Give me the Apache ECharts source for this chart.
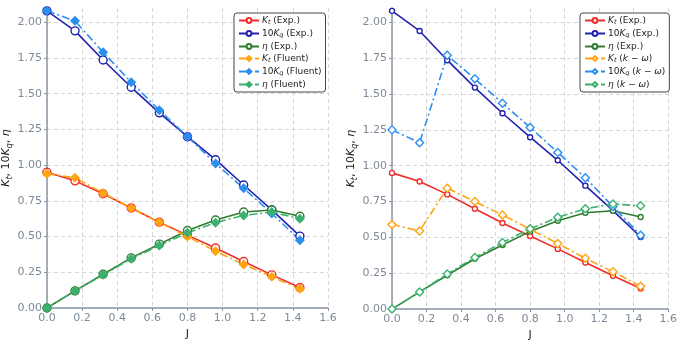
<!DOCTYPE html>
<html>
<head>
<meta charset="utf-8">
<script src="https://cdn.jsdelivr.net/npm/echarts@6/dist/echarts.min.js"></script>
<style>
html, body { margin: 0; padding: 0; background: #fff; }
#main { width: 680px; height: 346px; }
</style>
</head>
<body>
<div id="main"></div>
<script>
var J = [0, 0.16, 0.32, 0.48, 0.64, 0.80, 0.96, 1.12, 1.28, 1.44];

// experiment
var ktExp  = [0.95, 0.89, 0.80, 0.70, 0.60, 0.51, 0.42, 0.325, 0.232, 0.143];
var kqExp  = [2.08, 1.94, 1.736, 1.545, 1.366, 1.199, 1.038, 0.861, 0.687, 0.503];
var etaExp = [0, 0.12, 0.236, 0.351, 0.447, 0.542, 0.616, 0.672, 0.686, 0.642];

// fluent (left)
var ktFluent  = [0.94, 0.912, 0.805, 0.70, 0.60, 0.50, 0.398, 0.305, 0.218, 0.134];
var kqFluent  = [2.08, 2.01, 1.79, 1.58, 1.385, 1.20, 1.012, 0.838, 0.662, 0.475];
var etaFluent = [0, 0.12, 0.232, 0.345, 0.437, 0.526, 0.597, 0.648, 0.672, 0.625];

// k-omega (right)
var ktKw  = [0.59, 0.545, 0.843, 0.75, 0.657, 0.557, 0.458, 0.355, 0.26, 0.16];
var kqKw  = [1.25, 1.16, 1.77, 1.606, 1.436, 1.267, 1.093, 0.916, 0.715, 0.515];
var etaKw = [0, 0.12, 0.245, 0.36, 0.465, 0.56, 0.64, 0.70, 0.733, 0.72];

var C = {
	kt: '#f22b2b', kq: '#2222b0', eta: '#2e7d2e',
	ktS: '#ffa510', kqS: '#2b8ff0', etaS: '#3cb06e'
};
var labels = {
	a1: '{i|K}{s|t} (Exp.)', a2: '10{i|K}{s|q} (Exp.)', a3: '{i|η} (Exp.)',
	a4: '{i|K}{s|t} (Fluent)', a5: '10{i|K}{s|q} (Fluent)', a6: '{i|η} (Fluent)',
	b1: '{i|K}{s|t} (Exp.)', b2: '10{i|K}{s|q} (Exp.)', b3: '{i|η} (Exp.)',
	b4: '{i|K}{s|t} ({i|k} − {i|ω})', b5: '10{i|K}{s|q} ({i|k} − {i|ω})', b6: '{i|η} ({i|k} − {i|ω})'
};
var tick = '#7d8a99';
var font = 'DejaVu Sans';
var dashDot = [8, 3, 2, 3];

function pairs(ys) {
	return J.map(function (x, i) { return [x, ys[i]]; });
}

function mk(name, idx, ys, color, symbol, size, filled, dashed) {
	return {
		name: name, type: 'line', xAxisIndex: idx, yAxisIndex: idx,
		data: pairs(ys), symbol: symbol, symbolSize: size, showSymbol: true,
		animation: false,
		lineStyle: { color: color, width: 1.6, type: dashed ? dashDot : 'solid' },
		itemStyle: { color: filled ? color : '#fff', borderColor: color, borderWidth: 1.4 }
	};
}

var rich = {
	i: { fontStyle: 'italic', fontFamily: font, fontSize: 9, color: '#222' },
	s: { fontStyle: 'italic', fontFamily: font, fontSize: 6.5, color: '#222', padding: [4, 0, 0, 0] }
};
var nameRich = {
	i: { fontStyle: 'italic', fontFamily: font, fontSize: 11, color: '#222' },
	s: { fontStyle: 'italic', fontFamily: font, fontSize: 8, color: '#222', padding: [6, 0, 0, 0] }
};

function xAx(idx) {
	return {
		type: 'value', gridIndex: idx, min: 0, max: 1.6, interval: 0.2,
		name: 'J', nameLocation: 'middle', nameGap: 20,
		nameTextStyle: { color: '#222', fontFamily: font, fontSize: 11 },
		axisLine: { lineStyle: { color: '#8a96a4', width: 1.5 } },
		axisTick: { lineStyle: { color: '#8a96a4' }, length: 3 },
		axisLabel: { color: tick, fontFamily: font, fontSize: 11, margin: 5,
			formatter: function (v) { return v.toFixed(1); } },
		splitLine: { show: true, lineStyle: { color: '#d6d6d6', type: [4, 3] } }
	};
}
function yAx(idx) {
	return {
		type: 'value', gridIndex: idx, min: 0, max: 2.1, interval: 0.25,
		name: '{i|K}{s|t}, 10{i|K}{s|q}, {i|η}', nameLocation: 'middle', nameGap: 26, nameRotate: 90,
		nameTextStyle: { color: '#222', fontFamily: font, fontSize: 11, rich: nameRich },
		axisLine: { show: true, lineStyle: { color: '#8a96a4', width: 1.5 } },
		axisTick: { show: true, lineStyle: { color: '#8a96a4' }, length: 3 },
		axisLabel: { color: tick, fontFamily: font, fontSize: 11, margin: 5, showMaxLabel: false,
			formatter: function (v) { return v.toFixed(2); } },
		splitLine: { show: true, showMaxLine: false, lineStyle: { color: '#d6d6d6', type: [4, 3] } }
	};
}
function leg(names, left) {
	return {
		data: names, left: left, top: 13, orient: 'vertical',
		itemWidth: 20, itemHeight: 6, itemGap: 3, padding: [3, 4, 3, 4],
		backgroundColor: '#fff', borderColor: '#444', borderWidth: 1, borderRadius: 3,
		textStyle: { fontFamily: font, fontSize: 9, color: '#222', padding: [0, 0, 0, -2], rich: rich },
		formatter: function (n) { return labels[n]; },
		selectedMode: false
	};
}

var chart = echarts.init(document.getElementById('main'), null, { renderer: 'canvas' });
chart.setOption({
	animation: false,
	grid: [
		{ left: 45, right: 352, top: 8, bottom: 38 },
		{ left: 392, right: 11, top: 8, bottom: 33 }
	],
	xAxis: [xAx(0), xAx(1)],
	yAxis: [yAx(0), yAx(1)],
	legend: [
		leg(['a1', 'a2', 'a3', 'a4', 'a5', 'a6'], 234),
		leg(['b1', 'b2', 'b3', 'b4', 'b5', 'b6'], 580)
	],
	series: [
		mk('a1', 0, ktExp, C.kt, 'circle', 8, false, false),
		mk('a2', 0, kqExp, C.kq, 'circle', 8, false, false),
		mk('a3', 0, etaExp, C.eta, 'circle', 8, false, false),
		mk('a4', 0, ktFluent, C.ktS, 'diamond', 8, true, true),
		mk('a5', 0, kqFluent, C.kqS, 'diamond', 8, true, true),
		mk('a6', 0, etaFluent, C.etaS, 'diamond', 8, true, true),
		mk('b1', 1, ktExp, C.kt, 'circle', 5, false, false),
		mk('b2', 1, kqExp, C.kq, 'circle', 5, false, false),
		mk('b3', 1, etaExp, C.eta, 'circle', 5, false, false),
		mk('b4', 1, ktKw, C.ktS, 'diamond', 8, false, true),
		mk('b5', 1, kqKw, C.kqS, 'diamond', 8, false, true),
		mk('b6', 1, etaKw, C.etaS, 'diamond', 8, false, true)
	]
});
</script>
</body>
</html>
